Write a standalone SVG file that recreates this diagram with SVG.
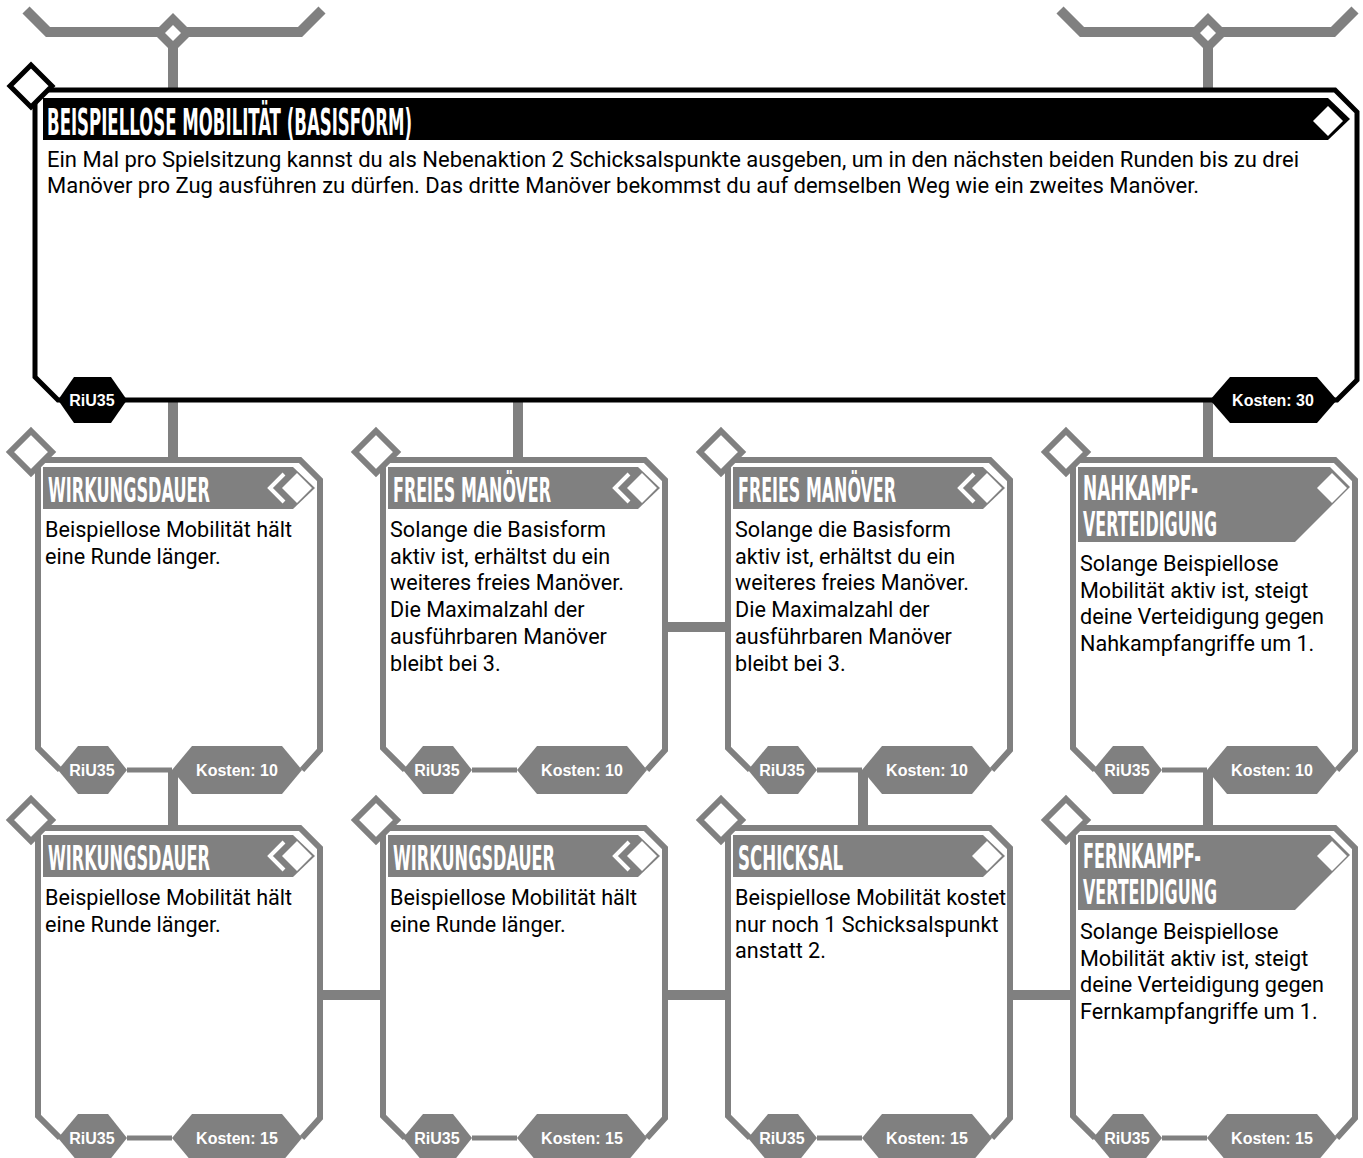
<svg xmlns="http://www.w3.org/2000/svg" width="1363" height="1158" viewBox="0 0 1363 1158">
<style>
.conn{stroke:#808080;stroke-width:10;fill:none}
.thin{stroke:#808080;stroke-width:5}
.card{fill:#fff;stroke:#808080;stroke-width:6}
.corner{fill:#fff;stroke:#808080;stroke-width:6}
.gray{fill:#808080}
.wd{fill:#fff}
.chev{fill:none;stroke:#fff;stroke-width:4}
.btxt{font-family:"Liberation Sans",Arial,sans-serif;font-weight:bold;font-size:16px;fill:#fff;text-anchor:middle}
.body{font-family:Roboto,"Liberation Sans",sans-serif;font-size:22px;fill:#000}
.cbody{font-family:Roboto,"Liberation Sans",sans-serif;font-size:21.6px;fill:#000}
.head{font-family:"DejaVu Sans Condensed","DejaVu Sans",sans-serif;font-weight:bold;font-size:33px;fill:#fff}
.mhead{font-family:"DejaVu Sans Condensed","DejaVu Sans",sans-serif;font-weight:bold;font-size:38px;fill:#fff}
</style>
<defs>
<g id="cardbase">
<path class="card" d="M60,770 L38,748 V460 H300 L320,480 V750 L302,770"/>
<line class="thin" x1="127" y1="770" x2="172" y2="770"/>
<polygon class="gray" points="58,770 78,746 108,746 127,770 108,794 78,794"/>
<polygon class="gray" points="172,770 192,746 282,746 302,770 282,794 192,794"/>
<text class="btxt" x="92" y="776">RiU35</text>
<path class="corner" d="M31,431 L52,452 L31,473 L10,452 Z"/>
</g>
<g id="bar1">
<path class="gray" d="M43,467 H293 L315,488 L293,509 H43 Z"/>
<path class="wd" d="M297,473 L312,488 L297,503 L282,488 Z"/>
</g>
<polyline id="chevron" class="chev" points="284,474 270,488 284,502"/>
<g id="bar2">
<path class="gray" d="M43,467 H295 L315,487 L260,542 H43 Z"/>
<path class="wd" d="M297,473 L312,488 L297,503 L282,488 Z"/>
</g>
</defs>

<g id="connectors">
<polyline class="conn" points="26,10 48,32 300,32 322,10"/>
<polyline class="conn" points="1060,10 1082,32 1333,32 1355,10"/>
<line class="conn" x1="173" y1="33" x2="173" y2="92"/>
<line class="conn" x1="1208" y1="33" x2="1208" y2="92"/>
<line class="conn" x1="173" y1="400" x2="173" y2="460"/>
<line class="conn" x1="518" y1="400" x2="518" y2="460"/>
<line class="conn" x1="1208" y1="400" x2="1208" y2="460"/>
<line class="conn" x1="173" y1="770" x2="173" y2="828"/>
<line class="conn" x1="863" y1="770" x2="863" y2="828"/>
<line class="conn" x1="1208" y1="770" x2="1208" y2="828"/>
<line class="conn" x1="665" y1="627" x2="729" y2="627"/>
<line class="conn" x1="320" y1="995" x2="384" y2="995"/>
<line class="conn" x1="665" y1="995" x2="729" y2="995"/>
<line class="conn" x1="1010" y1="995" x2="1074" y2="995"/>
<path class="gray" d="M173,13 L193,33 L173,53 L153,33 Z"/>
<path class="wd" d="M173,25 L181,33 L173,41 L165,33 Z"/>
<path class="gray" d="M1208,13 L1228,33 L1208,53 L1188,33 Z"/>
<path class="wd" d="M1208,25 L1216,33 L1208,41 L1200,33 Z"/>
</g>

<g id="main">
<path d="M58,400 L35,377 V90 H1335 L1357,112 V380 L1337,400 Z" fill="#fff" stroke="#000" stroke-width="5"/>
<path d="M43,98 H1328 L1350,119 L1328,140 H43 Z" fill="#000"/>
<path class="wd" d="M1328,106 L1343,121 L1328,136 L1313,121 Z"/>
<polygon points="58,400 74,377 111,377 127,400 111,423 74,423" fill="#000"/>
<polygon points="1210,400 1230,377 1317,377 1337,400 1317,423 1230,423" fill="#000"/>
<text class="btxt" x="92" y="406">RiU35</text>
<text class="btxt" x="1273" y="406">Kosten: 30</text>
<path d="M31,65 L52,86 L31,107 L10,86 Z" fill="#fff" stroke="#000" stroke-width="5"/>
<text class="mhead" x="47" y="135" textLength="365" lengthAdjust="spacingAndGlyphs">BEISPIELLOSE MOBILITÄT (BASISFORM)</text>
<text class="body" x="47" y="167">Ein Mal pro Spielsitzung kannst du als Nebenaktion 2 Schicksalspunkte ausgeben, um in den nächsten beiden Runden bis zu drei</text>
<text class="body" x="47" y="193">Manöver pro Zug ausführen zu dürfen. Das dritte Manöver bekommst du auf demselben Weg wie ein zweites Manöver.</text>
</g>

<g id="card-r1c1">
<use href="#cardbase"/><use href="#bar1"/><use href="#chevron"/>
<text class="btxt" x="237" y="776">Kosten: 10</text>
<text class="head" x="48" y="502" textLength="162" lengthAdjust="spacingAndGlyphs">WIRKUNGSDAUER</text>
<text class="cbody" x="45" y="537">Beispiellose Mobilität hält</text>
<text class="cbody" x="45" y="563.7">eine Runde länger.</text>
</g>

<g id="card-r1c2" transform="translate(345,0)">
<use href="#cardbase"/><use href="#bar1"/><use href="#chevron"/>
<text class="btxt" x="237" y="776">Kosten: 10</text>
<text class="head" x="48" y="502" textLength="158" lengthAdjust="spacingAndGlyphs">FREIES MANÖVER</text>
<text class="cbody" x="45" y="537">Solange die Basisform</text>
<text class="cbody" x="45" y="563.7">aktiv ist, erhältst du ein</text>
<text class="cbody" x="45" y="590.4">weiteres freies Manöver.</text>
<text class="cbody" x="45" y="617.1">Die Maximalzahl der</text>
<text class="cbody" x="45" y="643.8">ausführbaren Manöver</text>
<text class="cbody" x="45" y="670.5">bleibt bei 3.</text>
</g>

<g id="card-r1c3" transform="translate(690,0)">
<use href="#cardbase"/><use href="#bar1"/><use href="#chevron"/>
<text class="btxt" x="237" y="776">Kosten: 10</text>
<text class="head" x="48" y="502" textLength="158" lengthAdjust="spacingAndGlyphs">FREIES MANÖVER</text>
<text class="cbody" x="45" y="537">Solange die Basisform</text>
<text class="cbody" x="45" y="563.7">aktiv ist, erhältst du ein</text>
<text class="cbody" x="45" y="590.4">weiteres freies Manöver.</text>
<text class="cbody" x="45" y="617.1">Die Maximalzahl der</text>
<text class="cbody" x="45" y="643.8">ausführbaren Manöver</text>
<text class="cbody" x="45" y="670.5">bleibt bei 3.</text>
</g>

<g id="card-r1c4" transform="translate(1035,0)">
<use href="#cardbase"/><use href="#bar2"/>
<text class="btxt" x="237" y="776">Kosten: 10</text>
<text class="head" x="48" y="500" textLength="115" lengthAdjust="spacingAndGlyphs">NAHKAMPF-</text>
<text class="head" x="48" y="536" textLength="134" lengthAdjust="spacingAndGlyphs">VERTEIDIGUNG</text>
<text class="cbody" x="45" y="571">Solange Beispiellose</text>
<text class="cbody" x="45" y="597.7">Mobilität aktiv ist, steigt</text>
<text class="cbody" x="45" y="624.4">deine Verteidigung gegen</text>
<text class="cbody" x="45" y="651.1">Nahkampfangriffe um 1.</text>
</g>

<g id="card-r2c1" transform="translate(0,368)">
<use href="#cardbase"/><use href="#bar1"/><use href="#chevron"/>
<text class="btxt" x="237" y="776">Kosten: 15</text>
<text class="head" x="48" y="502" textLength="162" lengthAdjust="spacingAndGlyphs">WIRKUNGSDAUER</text>
<text class="cbody" x="45" y="537">Beispiellose Mobilität hält</text>
<text class="cbody" x="45" y="563.7">eine Runde länger.</text>
</g>

<g id="card-r2c2" transform="translate(345,368)">
<use href="#cardbase"/><use href="#bar1"/><use href="#chevron"/>
<text class="btxt" x="237" y="776">Kosten: 15</text>
<text class="head" x="48" y="502" textLength="162" lengthAdjust="spacingAndGlyphs">WIRKUNGSDAUER</text>
<text class="cbody" x="45" y="537">Beispiellose Mobilität hält</text>
<text class="cbody" x="45" y="563.7">eine Runde länger.</text>
</g>

<g id="card-r2c3" transform="translate(690,368)">
<use href="#cardbase"/><use href="#bar1"/>
<text class="btxt" x="237" y="776">Kosten: 15</text>
<text class="head" x="48" y="502" textLength="105" lengthAdjust="spacingAndGlyphs">SCHICKSAL</text>
<text class="cbody" x="45" y="537">Beispiellose Mobilität kostet</text>
<text class="cbody" x="45" y="563.7">nur noch 1 Schicksalspunkt</text>
<text class="cbody" x="45" y="590.4">anstatt 2.</text>
</g>

<g id="card-r2c4" transform="translate(1035,368)">
<use href="#cardbase"/><use href="#bar2"/>
<text class="btxt" x="237" y="776">Kosten: 15</text>
<text class="head" x="48" y="500" textLength="118" lengthAdjust="spacingAndGlyphs">FERNKAMPF-</text>
<text class="head" x="48" y="536" textLength="134" lengthAdjust="spacingAndGlyphs">VERTEIDIGUNG</text>
<text class="cbody" x="45" y="571">Solange Beispiellose</text>
<text class="cbody" x="45" y="597.7">Mobilität aktiv ist, steigt</text>
<text class="cbody" x="45" y="624.4">deine Verteidigung gegen</text>
<text class="cbody" x="45" y="651.1">Fernkampfangriffe um 1.</text>
</g>
</svg>
